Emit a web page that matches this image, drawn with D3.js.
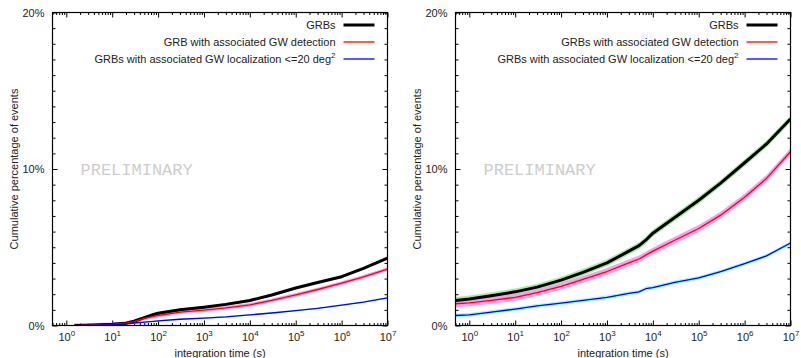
<!DOCTYPE html>
<html>
<head>
<meta charset="utf-8">
<script src="https://cdn.jsdelivr.net/npm/d3@7"></script>
<style>
  body { margin: 0; background: #fff; }
  svg { display: block; font-family: "Liberation Sans", Arial, sans-serif; }
  .axis path.domain { display: none; }
  .axis line { stroke: #000; stroke-width: 1; }
  .axis text { fill: #222; font-size: 11px; }
</style>
</head>
<body>
<svg id="chart" width="801" height="358"></svg>
<script>
// DATA
const xDomain = [0.5, 1e7];
const yDomain = [0, 20];
const xMajorTicks = [1, 10, 100, 1e3, 1e4, 1e5, 1e6, 1e7];
const yMajorTicks = [0, 10, 20];
const yTickLabels = ["0%", "10%", "20%"];

const leftLabels = ["GRBs", "GRB with associated GW detection", "GRBs with associated GW localization <=20 deg"];
const rightLabels = ["GRBs", "GRBs with associated GW detection", "GRBs with associated GW localization <=20 deg"];

// left panel: integration time (s) and cumulative % of events
const leftTime = [1.5, 3, 10, 20, 30, 50, 80, 100, 300, 1000, 3000, 1e4, 3e4, 1e5, 3e5, 1e6, 3e6, 1e7];
const leftGRB  = [0, 0.02, 0.08, 0.15, 0.27, 0.5, 0.7, 0.78, 1.0, 1.17, 1.35, 1.6, 1.95, 2.4, 2.75, 3.12, 3.65, 4.3];
const leftGW   = [0, 0.02, 0.07, 0.15, 0.25, 0.45, 0.58, 0.64, 0.85, 0.98, 1.12, 1.32, 1.6, 1.95, 2.3, 2.7, 3.1, 3.6];
const leftLoc  = [0, 0.01, 0.05, 0.1, 0.16, 0.22, 0.27, 0.3, 0.4, 0.47, 0.55, 0.68, 0.8, 0.95, 1.1, 1.3, 1.5, 1.77];
const leftBand = [0.08, 0.12, 0.05];

// right panel
const rightTime = [0.5, 1, 3, 10, 30, 100, 300, 1000, 3000, 5000, 7000, 1e4, 3e4, 1e5, 3e5, 1e6, 3e6, 1e7];
const rightGRB  = [1.6, 1.7, 1.9, 2.15, 2.45, 2.9, 3.4, 4.0, 4.75, 5.1, 5.45, 5.9, 6.9, 8.0, 9.1, 10.4, 11.6, 13.2];
const rightGW   = [1.39, 1.45, 1.6, 1.8, 2.1, 2.5, 2.95, 3.45, 4.0, 4.25, 4.5, 4.75, 5.45, 6.2, 7.05, 8.2, 9.4, 11.1];
const rightLoc  = [0.64, 0.68, 0.85, 1.05, 1.25, 1.43, 1.6, 1.8, 2.05, 2.15, 2.35, 2.42, 2.75, 3.05, 3.45, 3.95, 4.45, 5.27];
const rightBand = [0.22, 0.22, 0.12];

// STYLES
const lineColors = ["#000000", "#ff0000", "#0000ff"];
const bandColors = ["#a6eea6", "#f2a2f0", "#9cf8f8"];
const lineWidths = [3, 1.3, 1.3];

const svg = d3.select("#chart");

function superTen(sel) {
    sel.each(function(d) {
        const t = d3.select(this);
        const e = Math.round(Math.log10(d));
        t.text("");
        t.append("tspan").text("10");
        t.append("tspan").attr("dy", "-5").style("font-size", "8px").text(e);
    });
}

function drawPanel(id, left, right, top, bottom, times, series, bands, labels) {
    const x = d3.scaleLog().domain(xDomain).range([left, right]);
    const y = d3.scaleLinear().domain(yDomain).range([bottom, top]);
    const g = svg.append("g");

    g.append("clipPath").attr("id", "clip" + id)
        .append("rect").attr("x", left).attr("y", top)
        .attr("width", right - left).attr("height", bottom - top);

    // minor tick values
    let xMinor = [];
    for (let dec = -1; dec < 7; dec++) {
        for (let k = 2; k <= 9; k++) {
            const v = k * Math.pow(10, dec);
            if (v >= xDomain[0] && v <= xDomain[1]) xMinor.push(v);
        }
    }
    let yMinor = d3.range(1, 20).filter(v => v % 10 !== 0);

    // AXES - ticks point inward, mirrored on all sides
    const bx = g.append("g").attr("class", "axis").attr("transform", "translate(0," + bottom + ")")
        .call(d3.axisBottom(x).tickValues(xMajorTicks).tickSizeInner(-5).tickSizeOuter(0).tickPadding(7.5));
    bx.selectAll("text").call(superTen);
    g.append("g").attr("class", "axis").attr("transform", "translate(0," + bottom + ")")
        .call(d3.axisBottom(x).tickValues(xMinor).tickSizeInner(-2.5).tickSizeOuter(0).tickFormat(""));
    g.append("g").attr("class", "axis").attr("transform", "translate(0," + top + ")")
        .call(d3.axisTop(x).tickValues(xMajorTicks).tickSizeInner(-5).tickSizeOuter(0).tickFormat(""));
    g.append("g").attr("class", "axis").attr("transform", "translate(0," + top + ")")
        .call(d3.axisTop(x).tickValues(xMinor).tickSizeInner(-2.5).tickSizeOuter(0).tickFormat(""));

    g.append("g").attr("class", "axis").attr("transform", "translate(" + left + ",0)")
        .call(d3.axisLeft(y).tickValues(yMajorTicks).tickSizeInner(-5).tickSizeOuter(0).tickPadding(8)
            .tickFormat((d, i) => yTickLabels[i]));
    g.append("g").attr("class", "axis").attr("transform", "translate(" + left + ",0)")
        .call(d3.axisLeft(y).tickValues(yMinor).tickSizeInner(-3).tickSizeOuter(0).tickFormat(""));
    g.append("g").attr("class", "axis").attr("transform", "translate(" + right + ",0)")
        .call(d3.axisRight(y).tickValues(yMajorTicks).tickSizeInner(-5).tickSizeOuter(0).tickFormat(""));
    g.append("g").attr("class", "axis").attr("transform", "translate(" + right + ",0)")
        .call(d3.axisRight(y).tickValues(yMinor).tickSizeInner(-3).tickSizeOuter(0).tickFormat(""));

    // PRELIMINARY watermark
    g.append("text").attr("x", left + 28).attr("y", y(10)).attr("dy", "0.35em")
        .style("font-family", "'Liberation Mono', 'DejaVu Sans Mono', monospace")
        .style("font-size", "17px").style("fill", "#cdcdcd")
        .text("PRELIMINARY");

    // BANDS then LINES
    const plot = g.append("g").attr("clip-path", "url(#clip" + id + ")");
    series.forEach(function(vals, i) {
        const pts = times.map((t, j) => [t, vals[j]]);
        const area = d3.area()
            .x(d => x(d[0]))
            .y0(d => y(d[1] - bands[i]))
            .y1(d => y(d[1] + bands[i]));
        plot.append("path").datum(pts).attr("d", area)
            .style("fill", bandColors[i]).style("stroke", "none");
    });
    series.forEach(function(vals, i) {
        const pts = times.map((t, j) => [t, vals[j]]);
        const line = d3.line().x(d => x(d[0])).y(d => y(d[1]));
        plot.append("path").datum(pts).attr("d", line)
            .style("fill", "none").style("stroke", lineColors[i])
            .style("stroke-width", lineWidths[i]).style("stroke-linejoin", "round");
    });

    // FRAME
    g.append("rect").attr("x", left).attr("y", top)
        .attr("width", right - left).attr("height", bottom - top)
        .style("fill", "none").style("stroke", "#000").style("stroke-width", 1.2);

    // LEGEND
    labels.forEach(function(lab, i) {
        const ly = top + 13 + i * 17;
        const t = g.append("text").attr("x", right - 52).attr("y", ly).attr("dy", "0.35em")
            .attr("text-anchor", "end").style("font-size", "11px").style("fill", "#222");
        t.append("tspan").text(lab);
        if (i === 2) {
            t.append("tspan").attr("dy", "-5").style("font-size", "8px").text("2");
        }
        g.append("line").attr("x1", right - 44).attr("x2", right - 13)
            .attr("y1", ly - 0.5).attr("y2", ly - 0.5)
            .style("stroke", lineColors[i]).style("stroke-width", lineWidths[i]);
    });

    // AXIS TITLES
    g.append("text").attr("x", (left + right) / 2).attr("y", 357)
        .attr("text-anchor", "middle").style("font-size", "11px").style("fill", "#222")
        .text("integration time (s)");
    g.append("text")
        .attr("transform", "translate(" + (left - 38) + "," + ((top + bottom) / 2) + ") rotate(-90)")
        .attr("text-anchor", "middle").attr("dy", "0.35em")
        .style("font-size", "11px").style("fill", "#222")
        .text("Cumulative percentage of events");
}

drawPanel("L", 52.5, 387.5, 12.5, 325.5, leftTime, [leftGRB, leftGW, leftLoc], leftBand, leftLabels);
drawPanel("R", 455.5, 790.5, 12.5, 325.5, rightTime, [rightGRB, rightGW, rightLoc], rightBand, rightLabels);
</script>
</body>
</html>
